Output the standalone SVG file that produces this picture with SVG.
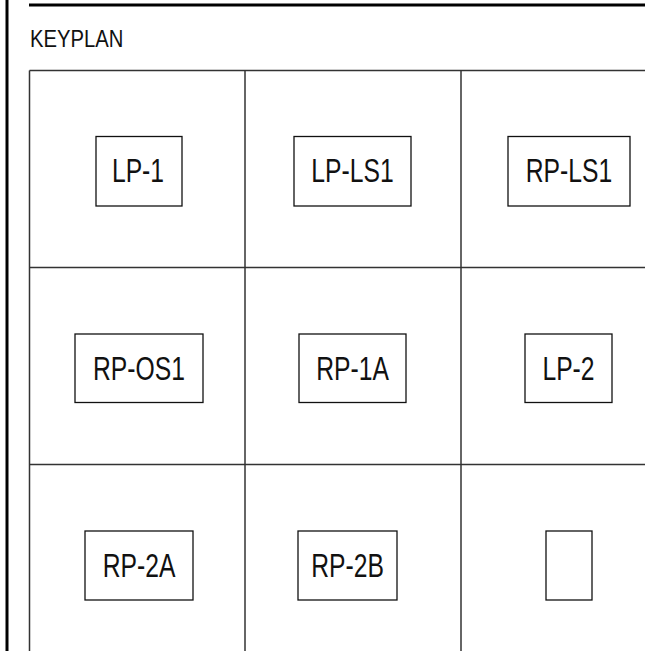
<svg xmlns="http://www.w3.org/2000/svg" width="645" height="651" viewBox="0 0 645 651">
<style>
.frame{stroke:#000;stroke-width:3;fill:none}
.grid{stroke:#333;stroke-width:1.5;fill:none}
.box{stroke:#111;stroke-width:1.3;fill:#fff}
.lbl{font-family:"Liberation Sans",Arial,sans-serif;font-size:32.5px;fill:#111;text-anchor:middle}
.title{font-family:"Liberation Sans",Arial,sans-serif;font-size:23px;fill:#111}
</style>
<rect width="645" height="651" fill="#fff"/>
<g id="frame">
<line class="frame" x1="7" y1="0" x2="7" y2="651"/>
<line class="frame" x1="29" y1="5" x2="645" y2="5"/>
<text class="title" transform="translate(30,46.5) scale(0.88,1)">KEYPLAN</text>
</g>
<g id="grid">
<line class="grid" x1="29.5" y1="70.5" x2="645" y2="70.5"/>
<line class="grid" x1="29.5" y1="267.5" x2="645" y2="267.5"/>
<line class="grid" x1="29.5" y1="464.5" x2="645" y2="464.5"/>
<line class="grid" x1="29.5" y1="70.5" x2="29.5" y2="651"/>
<line class="grid" x1="245" y1="70.5" x2="245" y2="651"/>
<line class="grid" x1="461" y1="70.5" x2="461" y2="651"/>
</g>
<g id="LP-1"><rect class="box" x="96" y="136.5" width="86" height="69.5"/><text class="lbl" transform="translate(138,182) scale(0.76,1)">LP-1</text></g>
<g id="LP-LS1"><rect class="box" x="294" y="136.5" width="117" height="69.5"/><text class="lbl" transform="translate(352.5,182) scale(0.76,1)">LP-LS1</text></g>
<g id="RP-LS1"><rect class="box" x="508" y="136.5" width="122" height="69.5"/><text class="lbl" transform="translate(569,182) scale(0.76,1)">RP-LS1</text></g>
<g id="RP-OS1"><rect class="box" x="75" y="334" width="128" height="68.5"/><text class="lbl" transform="translate(139,379.5) scale(0.76,1)">RP-OS1</text></g>
<g id="RP-1A"><rect class="box" x="299" y="334" width="107" height="68.5"/><text class="lbl" transform="translate(352.5,379.5) scale(0.76,1)">RP-1A</text></g>
<g id="LP-2"><rect class="box" x="525" y="334" width="87" height="68.5"/><text class="lbl" transform="translate(568.5,379.5) scale(0.76,1)">LP-2</text></g>
<g id="RP-2A"><rect class="box" x="85" y="531" width="108" height="69"/><text class="lbl" transform="translate(139,577) scale(0.76,1)">RP-2A</text></g>
<g id="RP-2B"><rect class="box" x="298" y="531" width="99" height="69"/><text class="lbl" transform="translate(347.5,577) scale(0.76,1)">RP-2B</text></g>
<g id="empty"><rect class="box" x="546" y="531" width="46" height="69"/></g>
</svg>
